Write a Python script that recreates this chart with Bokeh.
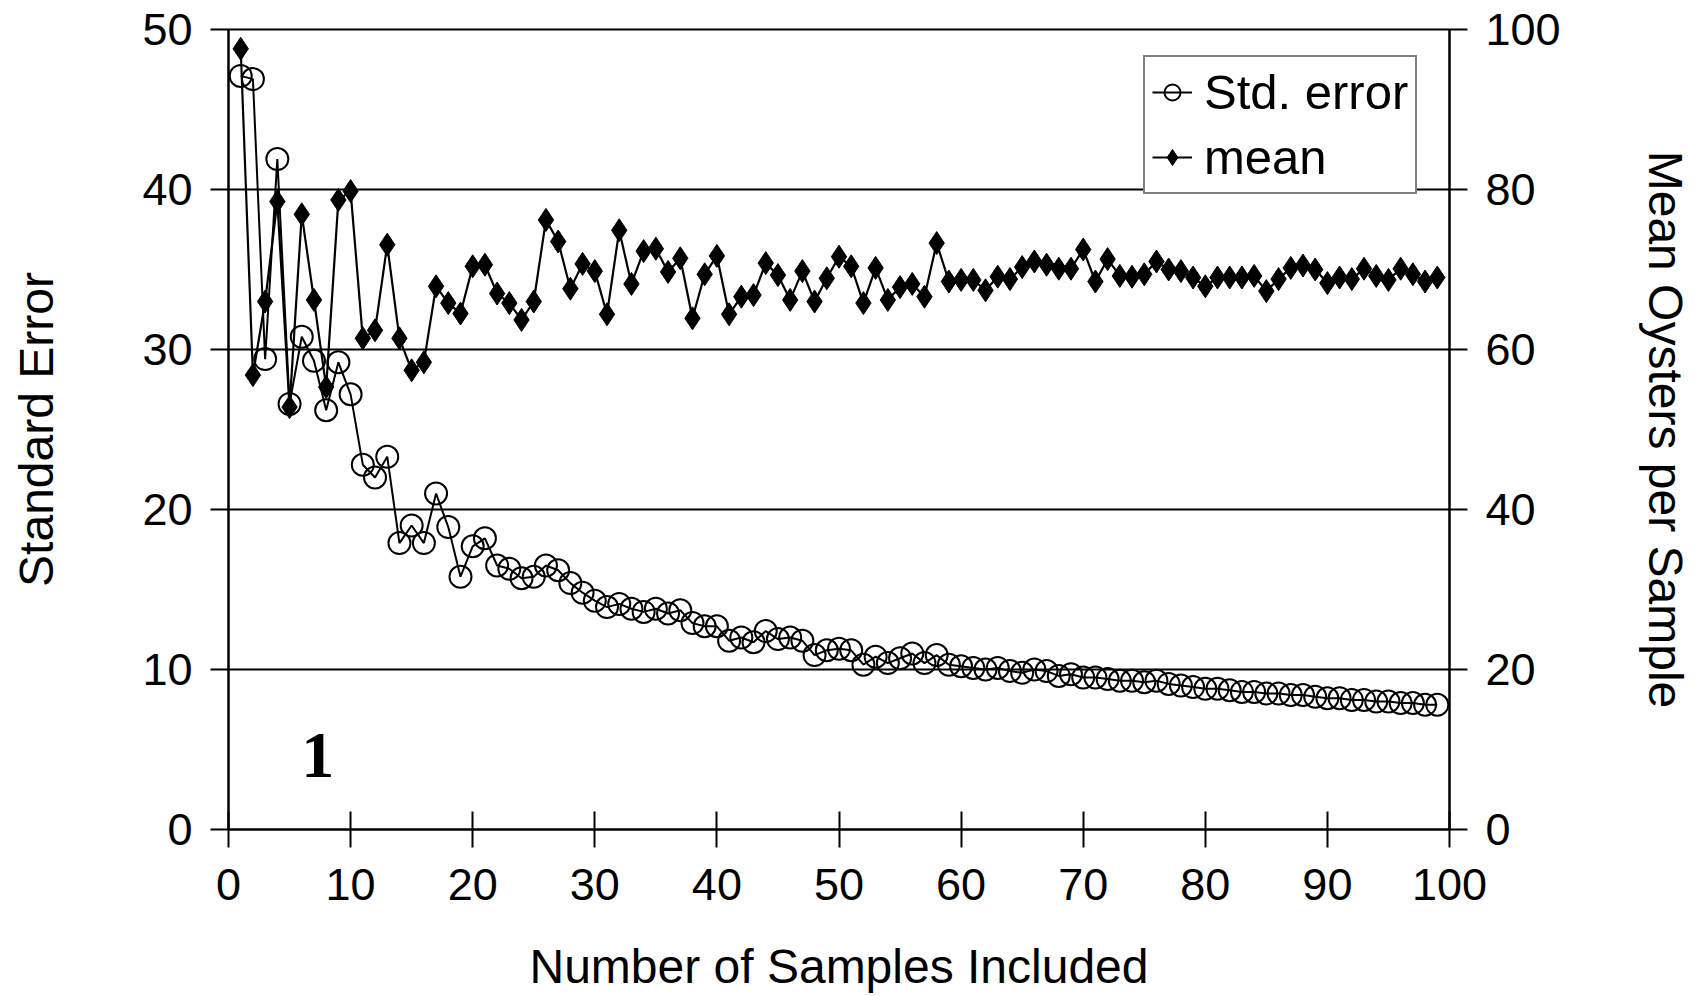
from bokeh.plotting import figure
from bokeh.models import Range1d, LinearAxis, FixedTicker, Legend, LegendItem
from bokeh.core.properties import value
from bokeh.embed import file_html
from bokeh.resources import INLINE

samples = list(range(1, 100))
std_error = [47.1, 46.9, 29.4, 41.9, 26.6, 30.8, 29.3, 26.2, 29.2, 27.2,
             22.8, 22.0, 23.3, 17.9, 19.0, 17.9, 21.0, 18.9, 15.8, 17.7,
             18.2, 16.5, 16.3, 15.7, 15.8, 16.5, 16.2, 15.4, 14.8, 14.3,
             13.9, 14.1, 13.8, 13.6, 13.8, 13.5, 13.7, 12.9, 12.7, 12.7,
             11.8, 12.0, 11.7, 12.4, 11.9, 12.0, 11.8, 10.9, 11.2, 11.3,
             11.2, 10.3, 10.8, 10.4, 10.7, 11.0, 10.4, 10.9, 10.3, 10.2,
             10.1, 10.0, 10.1, 9.9, 9.8, 10.0, 9.9, 9.6, 9.7, 9.5,
             9.5, 9.4, 9.3, 9.3, 9.2, 9.3, 9.1, 9.0, 8.9, 8.8,
             8.8, 8.7, 8.6, 8.6, 8.5, 8.5, 8.4, 8.4, 8.3, 8.2,
             8.2, 8.1, 8.1, 8.0, 8.0, 7.9, 7.9, 7.8, 7.8]
mean_oysters = [97.6, 56.8, 66.0, 78.5, 52.8, 76.9, 66.2, 55.3, 78.7, 79.8,
                61.4, 62.4, 73.1, 61.4, 57.4, 58.4, 67.9, 65.8, 64.5, 70.4,
                70.6, 67.0, 65.8, 63.7, 66.0, 76.2, 73.5, 67.6, 70.7, 69.8,
                64.4, 74.9, 68.2, 72.3, 72.6, 69.7, 71.4, 63.9, 69.4, 71.7,
                64.4, 66.6, 66.8, 70.8, 69.3, 66.2, 69.8, 66.0, 68.9, 71.6,
                70.4, 65.8, 70.2, 66.2, 67.8, 68.2, 66.6, 73.3, 68.5, 68.7,
                68.7, 67.4, 69.1, 68.8, 70.3, 71.0, 70.6, 70.1, 70.1, 72.5,
                68.5, 71.3, 69.2, 69.1, 69.4, 71.0, 70.0, 69.8, 69.0, 67.9,
                69.0, 69.0, 69.0, 69.2, 67.3, 68.8, 70.2, 70.5, 70.0, 68.3,
                69.0, 68.8, 70.1, 69.2, 68.7, 70.1, 69.4, 68.5, 69.0]
x_ticks = [0, 10, 20, 30, 40, 50, 60, 70, 80, 90, 100]
left_ticks = [0, 10, 20, 30, 40, 50]
right_ticks = [0, 20, 40, 60, 80, 100]
panel_label = "1"
panel_label_x = [7.3]
panel_label_y = [4.6]

FONT = "Liberation Sans"

p = figure(width=1695, height=996, x_range=Range1d(0, 100), y_range=Range1d(0, 50),
           output_backend="svg", toolbar_location=None,
           min_border_left=228, min_border_right=246, min_border_top=29, min_border_bottom=167,
           background_fill_color="white", border_fill_color="white")
p.extra_y_ranges = {"mean": Range1d(0, 100)}
p.outline_line_color = "black"
p.outline_line_width = 2

p.xgrid.visible = False
p.ygrid.ticker = FixedTicker(ticks=left_ticks)
p.ygrid.grid_line_color = "black"
p.ygrid.grid_line_width = 2

xax = p.xaxis[0]
yax = p.yaxis[0]
rax = LinearAxis(y_range_name="mean")
p.add_layout(rax, "right")

xax.ticker = FixedTicker(ticks=x_ticks)
yax.ticker = FixedTicker(ticks=left_ticks)
rax.ticker = FixedTicker(ticks=right_ticks)

for ax in (xax, yax, rax):
    ax.axis_line_color = "black"
    ax.axis_line_width = 2
    ax.major_tick_line_color = "black"
    ax.major_tick_line_width = 2
    ax.minor_tick_line_color = None
    ax.major_label_text_font = FONT
    ax.major_label_text_font_size = "45px"
    ax.major_label_text_color = "black"
    ax.axis_label_text_font = FONT
    ax.axis_label_text_font_size = "48px"
    ax.axis_label_text_font_style = "normal"
    ax.axis_label_text_color = "black"
    ax.major_label_standoff = 18
    ax.major_tick_out = 18
    ax.major_tick_in = 0

xax.major_tick_in = 18
xax.major_label_standoff = 21
xax.axis_label = "Number of Samples Included"
xax.axis_label_standoff = 37
yax.axis_label = "Standard Error"
yax.axis_label_standoff = 76
rax.axis_label = "Mean Oysters per Sample"
rax.axis_label_standoff = 75

se_line = p.line(samples, std_error, line_color="black", line_width=2)
se_pts = p.scatter(samples, std_error, marker="circle", size=22, fill_alpha=0,
                   line_color="black", line_width=2)
mn_line = p.line(samples, mean_oysters, line_color="black", line_width=2.2, y_range_name="mean")
mn_pts = p.scatter(samples, mean_oysters, marker="diamond", size=23, fill_color="black",
                   line_color="black", line_width=1, y_range_name="mean")

p.text(x=panel_label_x, y=panel_label_y, text=[panel_label], text_font=value("Liberation Serif"),
       text_font_style="bold", text_font_size="66px", text_align="center",
       text_baseline="middle", text_color="black")

legend = Legend(items=[LegendItem(label="Std. error", renderers=[se_line, se_pts]),
                       LegendItem(label="mean", renderers=[mn_line, mn_pts])],
                location=(915, 635), margin=0, padding=7, spacing=9,
                glyph_width=40, glyph_height=40, label_standoff=12,
                label_text_font=FONT, label_text_font_size="49px", label_text_color="black",
                border_line_color="black", border_line_width=2,
                background_fill_color="white", background_fill_alpha=1)
p.add_layout(legend)

open("out.html", "w").write(file_html(p, INLINE))
